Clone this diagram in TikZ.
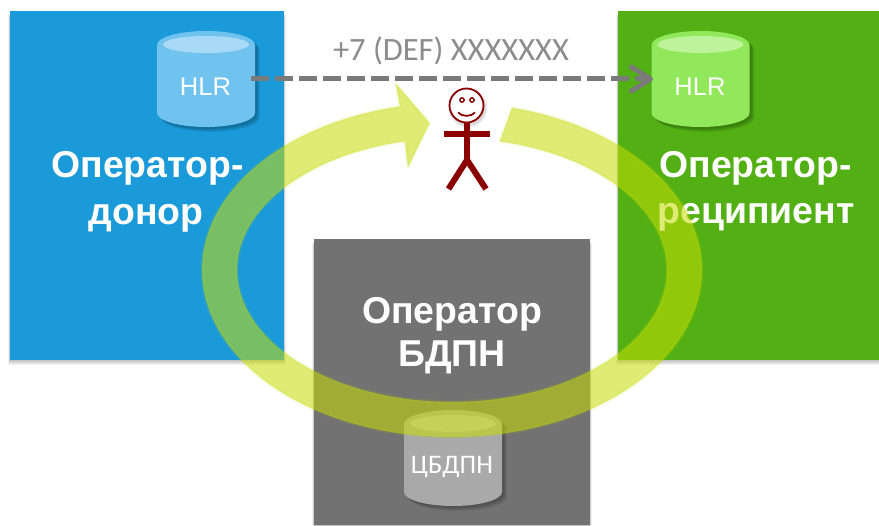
\documentclass[tikz,border=0pt]{standalone}
\usepackage{fontspec}
\setmainfont{Liberation Sans}
\newfontfamily\carl{Carlito}
\usetikzlibrary{arrows.meta}
\definecolor{boxblue}{HTML}{1A9AD9}
\definecolor{boxgreen}{HTML}{52B014}
\definecolor{boxgray}{HTML}{727272}
\definecolor{ringc}{HTML}{C6DC05}
\definecolor{manred}{HTML}{8B0000}
\definecolor{cylblue}{HTML}{6FC3EE}
\definecolor{capblue}{HTML}{A8DAF5}
\definecolor{cylgreen}{HTML}{91E85A}
\definecolor{capgreen}{HTML}{BEF39C}
\definecolor{cylgray}{HTML}{A9A9A9}
\definecolor{capgray}{HTML}{C4C4C4}
\tikzset{
  x=1pt,y=-1pt,
  panel/.style={rectangle,anchor=north west,inner sep=0pt,outer sep=0pt,draw=none},
  boldlabel/.style={anchor=base,text=white,inner sep=0pt,font=\fontsize{37.4}{38}\selectfont\bfseries},
  hlrlabel/.style={anchor=base,text=white,inner sep=0pt,font=\fontsize{25.5}{26}\selectfont},
  dblabel/.style={anchor=base,text=white,inner sep=0pt,font=\carl\fontsize{26.8}{28}\selectfont},
  numlabel/.style={anchor=base,inner sep=0pt,text=black!45,font=\carl\fontsize{32.5}{34}\selectfont},
  dasharrow/.style={draw=black!52,line width=5pt,dash pattern=on 17.5pt off 6.5pt,
    -{Straight Barb[length=19pt,width=24pt,round,line width=5pt]}},
  manline/.style={draw=manred,line width=6pt},
}
\newcommand{\softpanel}[4]{%
  \foreach \k in {1,...,5}{
    \fill[black,opacity=.05] (#1-\k*.35,#2+4) rectangle (#3+\k*.35,#4+\k*1.1);
  }}
\newcommand{\cylpath}{(-49,14) .. controls (-49,6.3) and (-27,0) .. (0,0) .. controls (27,0) and (49,6.3) .. (49,14) -- (49,82) .. controls (49,89.7) and (27,96) .. (0,96) .. controls (-27,96) and (-49,89.7) .. (-49,82) -- cycle}
\newcommand{\cylinder}[4]{%
  \begin{scope}[shift={(#1,#2)}]
    \foreach \k in {1,...,5}{
      \begin{scope}[shift={(1+\k*.8,1+\k*.8)}]
        \fill[black,opacity=.06] \cylpath;
      \end{scope}
    }
    \fill[#3] \cylpath;
    \fill[#4] (0,13.5) ellipse [x radius=43pt,y radius=8.5pt];
  \end{scope}}
\newcommand{\ringpath}{plot[domain=-76.1:258,samples=120] ({452+250*cos(\x)},{270+167*sin(\x)}) -- (396,84) -- (429.5,123) -- (408,167) -- (405,141) -- plot[domain=257.4:-77.1,samples=120] ({452+215*cos(\x)},{270+132*sin(\x)}) -- cycle}
\begin{document}
\begin{tikzpicture}
\useasboundingbox (0,0) rectangle (879,526);
\fill[white] (0,0) rectangle (879,526);
% panels
\softpanel{10}{11}{284}{360}
\softpanel{618}{11}{879}{360}
\softpanel{314}{239}{590}{525}
\node[panel,fill=boxblue,minimum width=274pt,minimum height=349pt] (donor) at (10,11) {};
\node[panel,fill=boxgreen,minimum width=261pt,minimum height=349pt] (recip) at (618,11) {};
\node[panel,fill=boxgray,minimum width=276pt,minimum height=286pt] (bdpn) at (314,239) {};
% cylinders
\cylinder{206}{31}{cylblue}{capblue}
\cylinder{700.5}{31}{cylgreen}{capgreen}
\cylinder{453}{410}{cylgray}{capgray}
% labels
\node[hlrlabel] (hlrd) at (205.5,95.5) {HLR};
\node[hlrlabel] (hlrr) at (700,95.5) {HLR};
\node[dblabel] (cb) at (452,474) {ЦБДПН};
\node[boldlabel] (d1) at (147.5,178) {Оператор-};
\node[boldlabel] (d2) at (146,224.5) {донор};
\node[boldlabel] (r1) at (755.5,178) {Оператор-};
\node[boldlabel] (r2) at (756,224) {реципиент};
\node[boldlabel] (b1) at (452,323.5) {Оператор};
\node[boldlabel] (b2) at (452,366.5) {БДПН};
\node[numlabel] (num) at (451,61) {+7 (DEF) XXXXXXX};
% number transfer
\coordinate (src) at (251,79);
\coordinate (dst) at (653,79);
\draw[dasharrow] (src) -- (dst);
% ring
\foreach \k in {1,2,3}{
  \draw[ringc,opacity=.06,line width=\k*1.4pt,line join=round] \ringpath;
}
\fill[ringc,opacity=.55] \ringpath;
% person
\foreach \k in {1,2,3}{
  \fill[black,opacity=.05] (468,108) circle [radius=17+\k*.8];
}
\draw[draw=manred,fill=white,line width=1.8pt] (466.5,105.5) coordinate (head) circle [radius=17];
\draw[draw=manred,line width=1.4pt] (462,100) circle [radius=2.2] (472,100) circle [radius=2.2];
\draw[draw=manred,line width=1.8pt] (458,112.5) .. controls (462,117) and (471,117) .. (475,112.5);
\coordinate (neck) at (467,123);
\coordinate (hip) at (467,160);
\coordinate (handl) at (444,134);
\coordinate (handr) at (490,134);
\coordinate (footl) at (448.5,189);
\coordinate (footr) at (486,189);
\draw[manline] (neck) -- (hip);
\draw[manline] (handl) -- (handr);
\draw[manline,line join=miter] (footl) -- (hip) -- (footr);
\end{tikzpicture}
\end{document}
